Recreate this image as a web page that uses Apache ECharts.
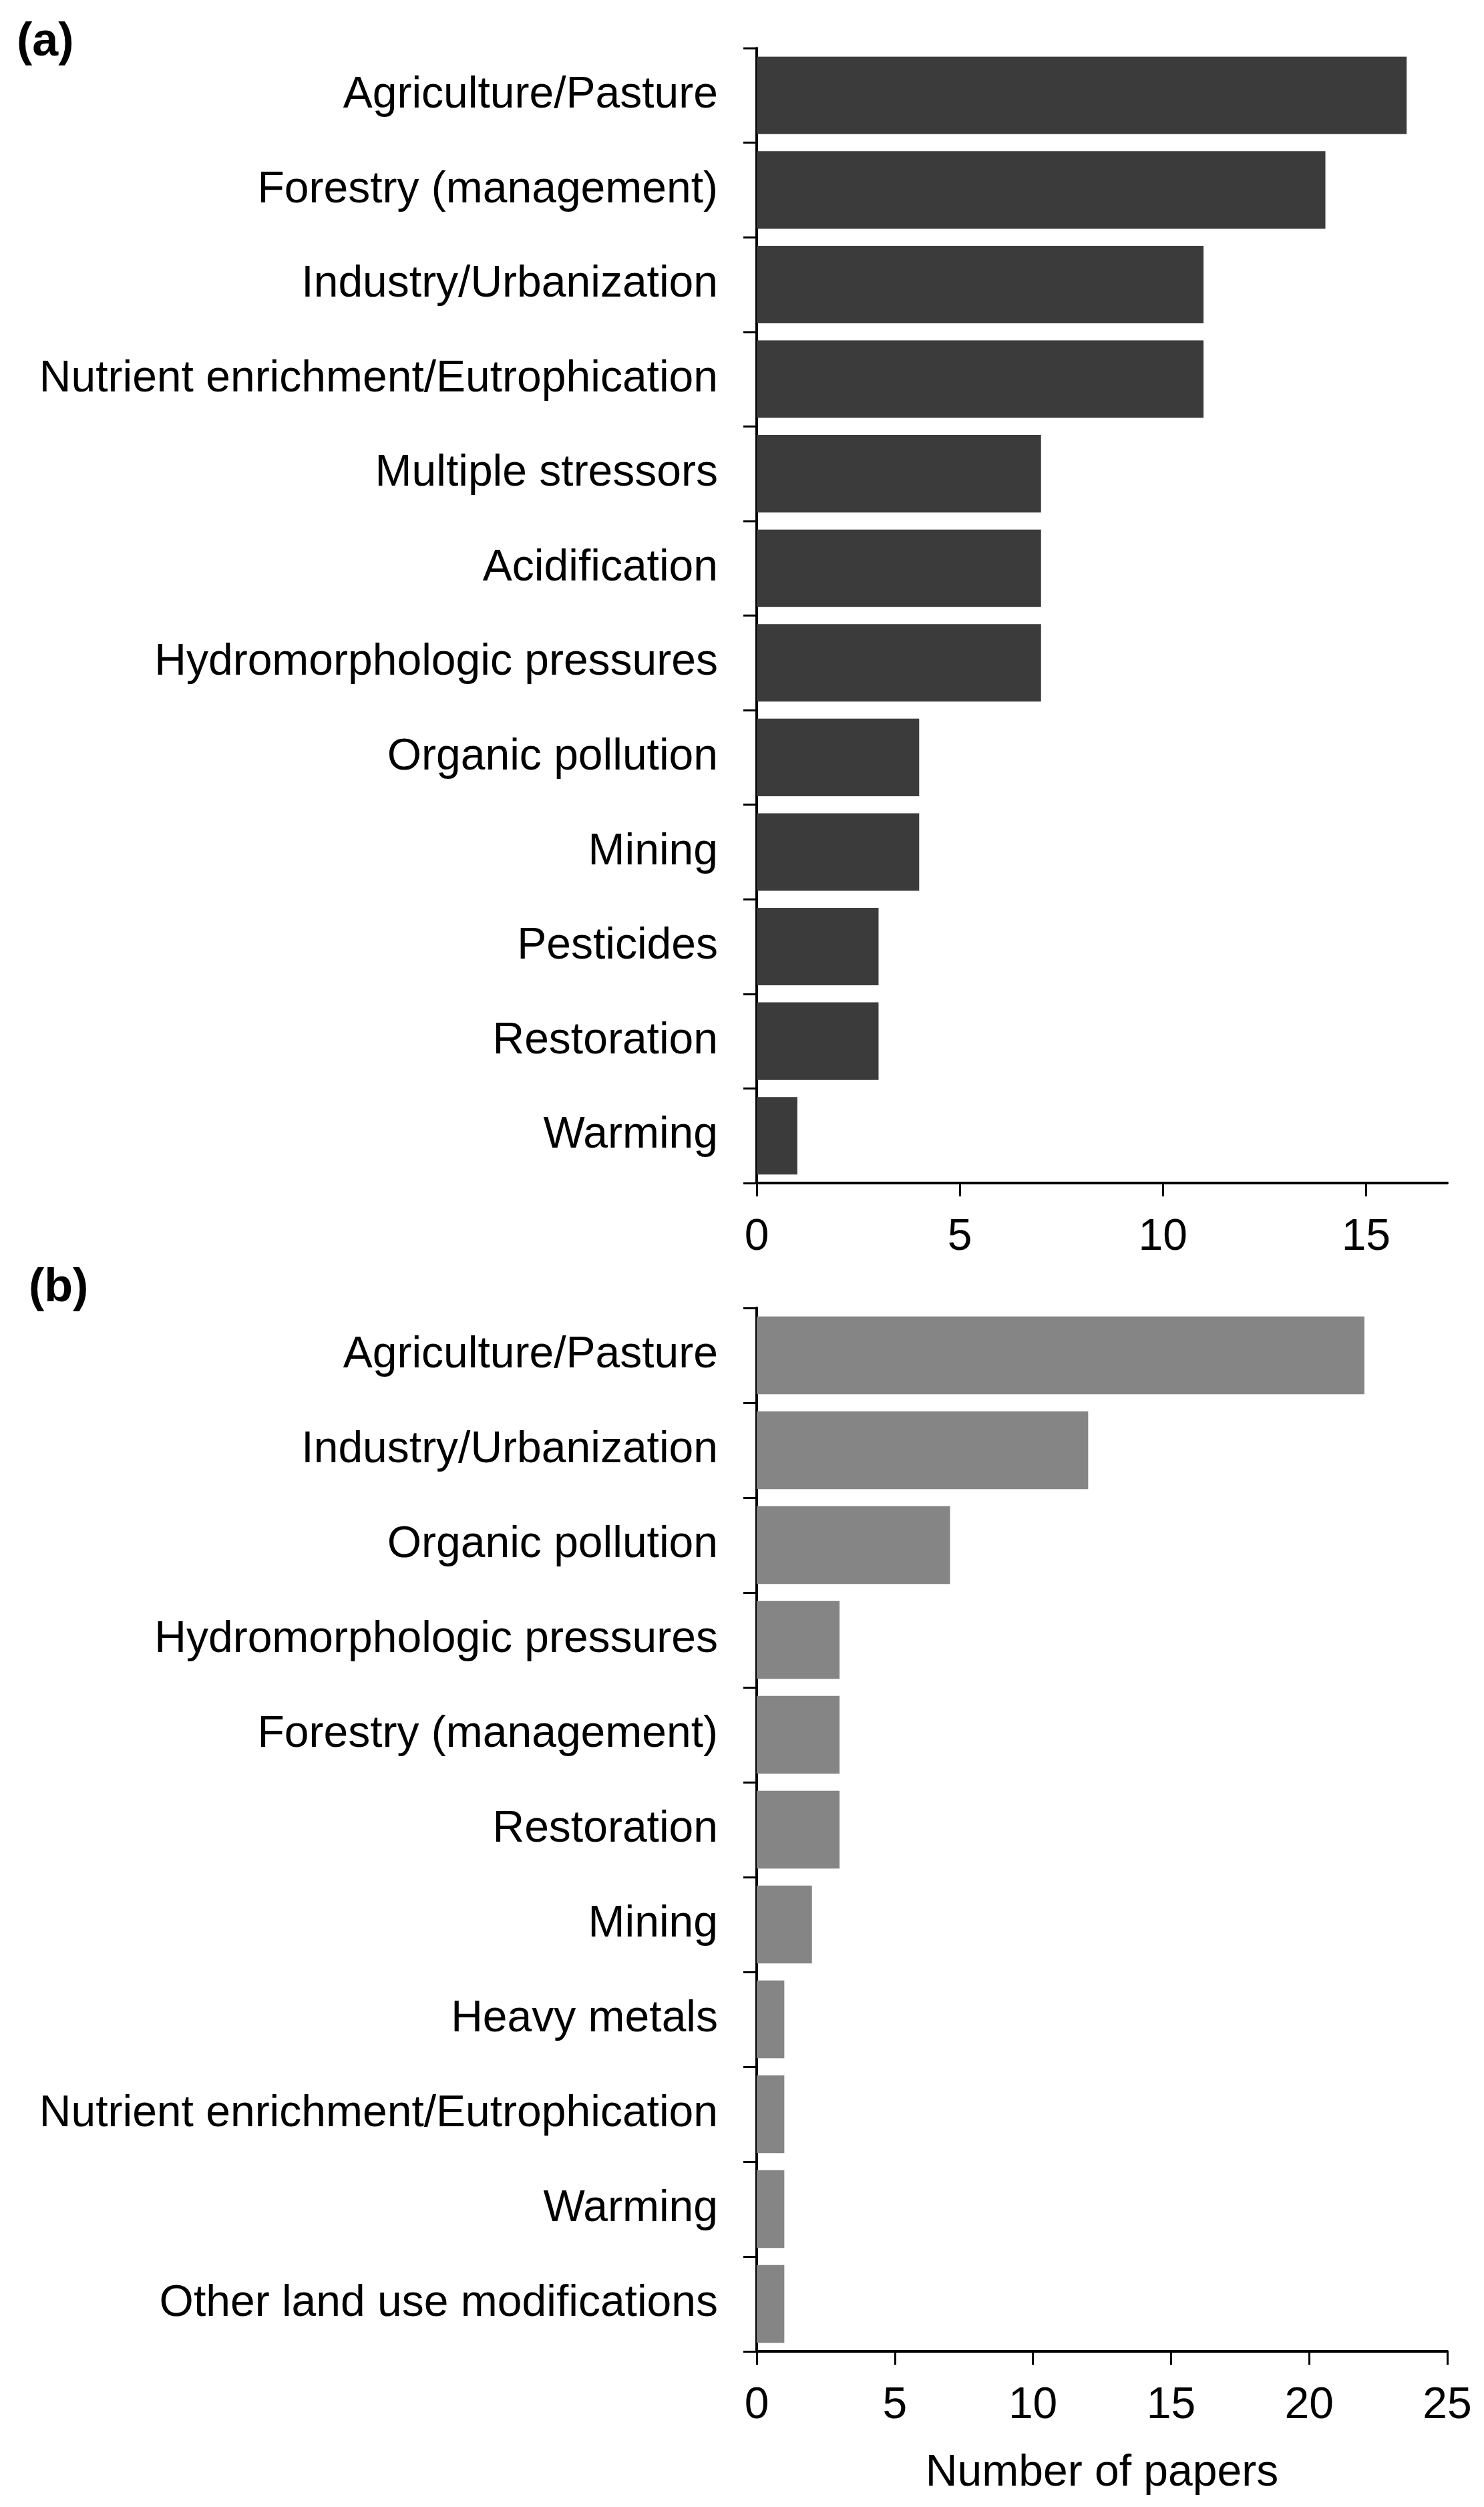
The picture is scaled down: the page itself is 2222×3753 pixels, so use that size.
<!DOCTYPE html>
<html lang="en">
	<head>
		<meta charset="utf-8" />
		<title>Number of papers by stressor</title>
		<style>
			html, body { margin: 0; padding: 0; background: #fff; }
		</style>
	</head>
	<body>
		<div id="main" style="width: 2222px; height: 3753px;"></div>

		<script src="https://cdn.jsdelivr.net/npm/echarts@6/dist/echarts.min.js"></script>
		<script type="text/javascript">
			// panel (a)
			const categoriesA = [
				'Agriculture/Pasture', 'Forestry (management)', 'Industry/Urbanization',
				'Nutrient enrichment/Eutrophication', 'Multiple stressors', 'Acidification',
				'Hydromorphologic pressures', 'Organic pollution', 'Mining', 'Pesticides',
				'Restoration', 'Warming'
			];
			const valuesA = [16, 14, 11, 11, 7, 7, 7, 4, 4, 3, 3, 1];
			const ticksA = [0, 5, 10, 15];

			// panel (b)
			const categoriesB = [
				'Agriculture/Pasture', 'Industry/Urbanization', 'Organic pollution',
				'Hydromorphologic pressures', 'Forestry (management)', 'Restoration', 'Mining',
				'Heavy metals', 'Nutrient enrichment/Eutrophication', 'Warming',
				'Other land use modifications'
			];
			const valuesB = [22, 12, 7, 3, 3, 3, 2, 1, 1, 1, 1];
			const ticksB = [0, 5, 10, 15, 20, 25];

			const font = 'Liberation Sans, Arial, sans-serif';
			const lineStyle = { color: '#000', width: 4 };
			const tickStyle = { color: '#000', width: 3 };

			function valueAxis(idx, max, ticks, name) {
				return {
					type: 'value', gridIndex: idx, min: 0, max: max, interval: 5,
					splitLine: { show: false },
					axisLine: { show: true, lineStyle: lineStyle },
					axisTick: { show: true, length: 20, lineStyle: tickStyle, customValues: ticks },
					axisLabel: { color: '#000', fontSize: 66, fontFamily: font, margin: 49, customValues: ticks },
					name: name, nameLocation: 'middle', nameGap: 150,
					nameTextStyle: { color: '#000', fontSize: 66, fontFamily: font }
				};
			}

			function catAxis(idx, cats) {
				return {
					type: 'category', gridIndex: idx, data: cats, inverse: true,
					axisLine: { show: true, lineStyle: lineStyle },
					axisTick: { show: true, length: 20, lineStyle: tickStyle },
					axisLabel: { color: '#000', fontSize: 66, fontFamily: font, margin: 58, padding: [10, 0, 0, 0] }
				};
			}

			const myChart = echarts.init(document.getElementById('main'));
			myChart.setOption({
				animation: false,
				backgroundColor: '#fff',
				title: [
					{ text: '(a)', left: 20, top: 24, textStyle: { fontSize: 70, fontWeight: 'bold', fontFamily: font, color: '#000' } },
					{ text: '(b)', left: 38, top: 1889, textStyle: { fontSize: 70, fontWeight: 'bold', fontFamily: font, color: '#000' } }
				],
				grid: [
					{ left: 1133, width: 1034, top: 72, height: 1699 },
					{ left: 1133, width: 1034, top: 1958, height: 1562 }
				],
				xAxis: [
					valueAxis(0, 17, ticksA, ''),
					valueAxis(1, 25, ticksB, 'Number of papers')
				],
				yAxis: [catAxis(0, categoriesA), catAxis(1, categoriesB)],
				series: [
					{
						type: 'bar', xAxisIndex: 0, yAxisIndex: 0, data: valuesA,
						barCategoryGap: '18%', itemStyle: { color: '#3b3b3b' }
					},
					{
						type: 'bar', xAxisIndex: 1, yAxisIndex: 1, data: valuesB,
						barCategoryGap: '18%', itemStyle: { color: '#858585' }
					}
				]
			});
		</script>
	</body>
</html>
